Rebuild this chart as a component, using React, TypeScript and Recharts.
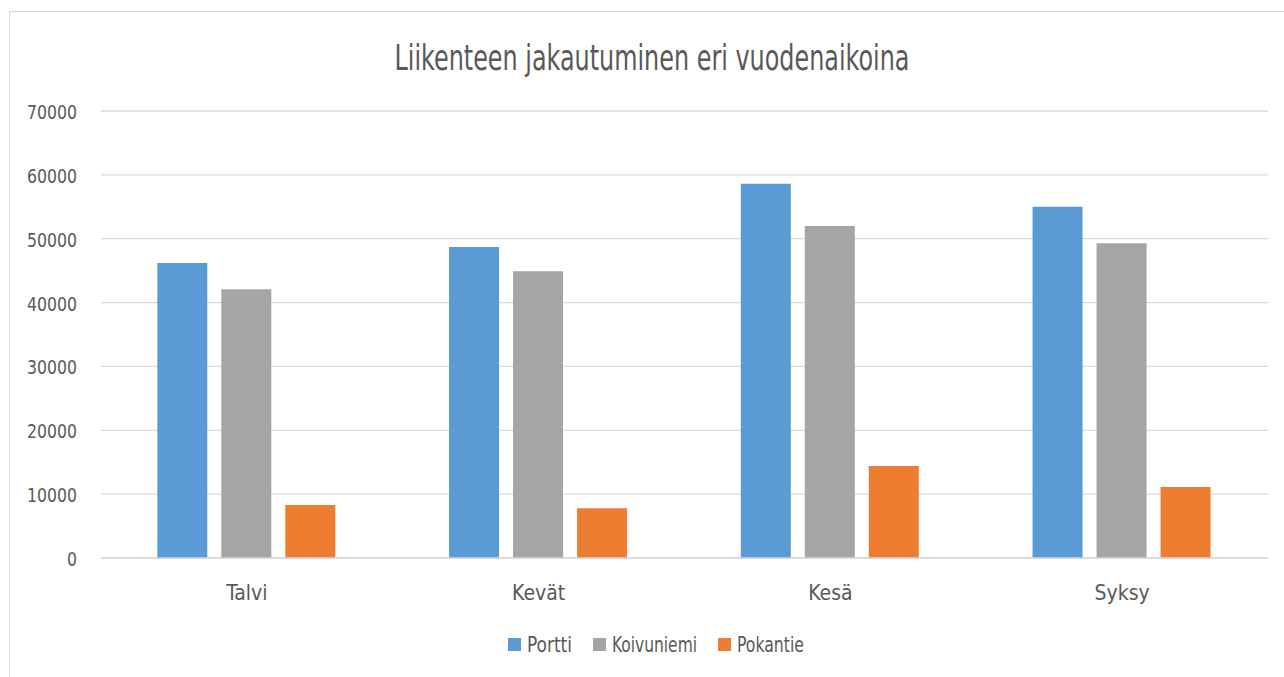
import { BarChart, Bar, XAxis, YAxis, CartesianGrid, Legend } from "recharts";

const seasons = ["Talvi", "Kevät", "Kesä", "Syksy"];
const portti = [46200, 48700, 58600, 55000];
const koivuniemi = [42100, 44900, 52000, 49300];
const pokantie = [8300, 7800, 14400, 11100];
const yTicks = [0, 10000, 20000, 30000, 40000, 50000, 60000, 70000];

const seriesNames = ["Portti", "Koivuniemi", "Pokantie"];
const seriesColors = ["#5B9BD5", "#A5A5A5", "#ED7D31"];

const title = "Liikenteen jakautuminen eri vuodenaikoina";

const FONT = '"Liberation Sans Narrow", "DejaVu Sans Condensed", "Liberation Sans", sans-serif';
const TEXT = "#595959";
const GRID = "#D9D9D9";

const data = seasons.map((season, i) => ({
  season,
  Portti: portti[i],
  Koivuniemi: koivuniemi[i],
  Pokantie: pokantie[i],
}));

// x-akselin nimiöt
function SeasonTick({ x, y, payload }: any) {
  return (
    <text x={x} y={y + 40} textAnchor="middle" fill={TEXT} fontFamily={FONT} fontSize={21}>
      {payload.value}
    </text>
  );
}

// y-akselin luvut, kapeampi kirjasin kuin Excelissä
function ValueTick({ x, y, payload }: any) {
  const s = String(payload.value);
  return (
    <text
      x={x}
      y={y + 8}
      textAnchor="end"
      fill={TEXT}
      fontFamily={FONT}
      fontSize={20}
      textLength={s.length * 10}
      lengthAdjust="spacingAndGlyphs"
    >
      {s}
    </text>
  );
}

const legendTextW = [45, 85, 67];

function LegendRow() {
  const box = 13;
  const gap = 6;
  const itemGap = 21;
  const total = legendTextW.reduce((a, w) => a + w + box + gap, 0) + itemGap * (legendTextW.length - 1);
  let cx = 656 - total / 2;
  const items = seriesNames.map((name, i) => {
    const x0 = cx;
    cx += box + gap + legendTextW[i] + itemGap;
    return (
      <g key={name}>
        <rect x={x0} y={9} width={box} height={box} fill={seriesColors[i]} />
        <text
          x={x0 + box + gap}
          y={23}
          fill={TEXT}
          fontFamily={FONT}
          fontSize={21}
          textLength={legendTextW[i]}
          lengthAdjust="spacingAndGlyphs"
        >
          {name}
        </text>
      </g>
    );
  });
  return (
    <svg width={1284} height={30} style={{ display: "block" }}>
      {items}
    </svg>
  );
}

export default function App() {
  return (
    <div style={{ position: "absolute", left: 0, top: 0, width: 1284, height: 677, background: "#fff" }}>
      {/* kaavion reunus */}
      <div
        style={{
          position: "absolute",
          left: 9,
          top: 11,
          width: 1275,
          height: 666,
          borderTop: `1px solid ${GRID}`,
          borderLeft: `1px solid ${GRID}`,
        }}
      />
      <BarChart
        width={1284}
        height={677}
        data={data}
        margin={{ top: 111, right: 16, left: 0, bottom: 49 }}
        barCategoryGap="19.3%"
        barGap={14}
        style={{ position: "absolute", left: 0, top: 0 }}
      >
        <text
          x={652}
          y={70}
          textAnchor="middle"
          fill={TEXT}
          fontFamily={FONT}
          fontSize={36}
          textLength={515}
          lengthAdjust="spacingAndGlyphs"
        >
          {title}
        </text>
        <CartesianGrid vertical={false} stroke={GRID} strokeWidth={1.3} />
        <XAxis
          dataKey="season"
          height={40}
          axisLine={{ stroke: GRID, strokeWidth: 1.3 }}
          tickLine={false}
          tickSize={0}
          tick={<SeasonTick />}
        />
        <YAxis
          width={101}
          domain={[0, 70000]}
          ticks={yTicks}
          axisLine={false}
          tickLine={false}
          tickSize={0}
          tickMargin={24}
          tick={<ValueTick />}
        />
        <Legend
          verticalAlign="bottom"
          content={() => <LegendRow />}
          wrapperStyle={{ position: "absolute", left: 0, top: 629, width: 1284, height: 30 }}
        />
        {seriesNames.map((name, i) => (
          <Bar key={name} dataKey={name} fill={seriesColors[i]} isAnimationActive={false} />
        ))}
      </BarChart>
    </div>
  );
}
